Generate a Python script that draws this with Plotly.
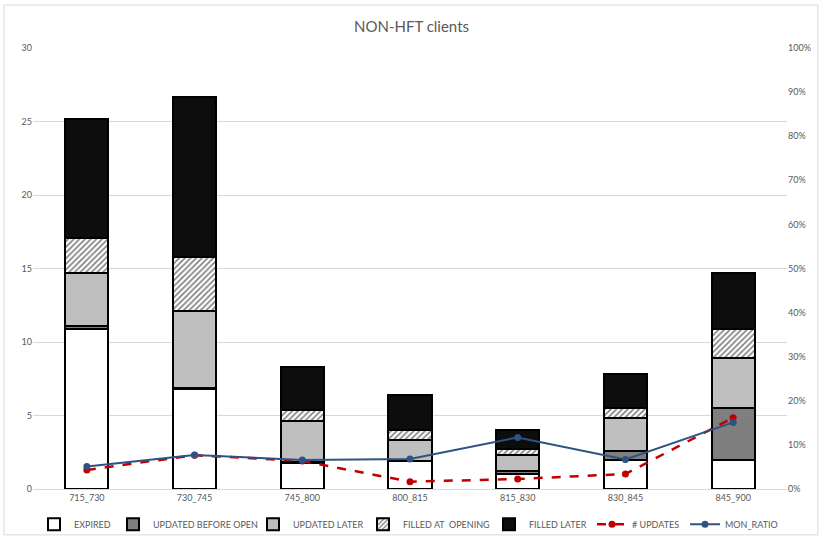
import plotly.graph_objects as go

# Time buckets on the x axis
categories = ["715_730", "730_745", "745_800", "800_815", "815_830", "830_845", "845_900"]

# Stacked order segments (counts)
expired = [10.9, 6.8, 1.8, 1.9, 1.0, 1.95, 2.0]
updated_before_open = [0.2, 0.1, 0.05, 0.0, 0.25, 0.65, 3.5]
updated_later = [3.6, 5.2, 2.8, 1.4, 1.05, 2.2, 3.4]
filled_at_opening = [2.4, 3.7, 0.75, 0.7, 0.45, 0.7, 2.0]
filled_later = [8.1, 10.9, 2.9, 2.4, 1.25, 2.3, 3.8]

# Line series
n_updates = [1.3, 2.3, 1.9, 0.5, 0.68, 1.02, 4.85]
mon_ratio = [0.051, 0.077, 0.066, 0.068, 0.117, 0.067, 0.151]

left_ticks = [0, 5, 10, 15, 20, 25, 30]

GREY_TXT = "#595959"
FONT = "Lato, 'Open Sans', sans-serif"

fig = go.Figure()

bar_line = dict(color="#000000", width=2)

fig.add_trace(go.Bar(name="EXPIRED", x=categories, y=expired, legendwidth=34,
                     marker=dict(color="#ffffff", line=bar_line)))
fig.add_trace(go.Bar(name="UPDATED BEFORE OPEN", x=categories, y=updated_before_open,
                     legendwidth=95,
                     marker=dict(color="#7f7f7f", line=bar_line)))
fig.add_trace(go.Bar(name="UPDATED LATER", x=categories, y=updated_later, legendwidth=65,
                     marker=dict(color="#bfbfbf", line=bar_line)))
fig.add_trace(go.Bar(name="FILLED AT  OPENING", x=categories, y=filled_at_opening,
                     legendwidth=81,
                     marker=dict(color="#ffffff", line=bar_line,
                                 pattern=dict(shape="/", fgcolor="#000000", bgcolor="#ffffff",
                                              size=4, solidity=0.4))))
fig.add_trace(go.Bar(name="FILLED LATER", x=categories, y=filled_later, legendwidth=58,
                     marker=dict(color="#0d0d0d", line=bar_line)))

fig.add_trace(go.Scatter(name="# UPDATES", x=categories, y=n_updates, mode="lines+markers",
                         legendwidth=48,
                         line=dict(color="#c00000", width=2.5, dash="dash"),
                         marker=dict(color="#c00000", size=7)))
fig.add_trace(go.Scatter(name="MON_RATIO", x=categories, y=mon_ratio, mode="lines+markers",
                         yaxis="y2", legendwidth=56,
                         line=dict(color="#2f5283", width=2),
                         marker=dict(color="#2f5283", size=7)))

fig.update_layout(
    width=823, height=540,
    margin=dict(l=33, r=36, t=48, b=51, autoexpand=False),
    paper_bgcolor="#ffffff", plot_bgcolor="#ffffff",
    barmode="stack", bargap=0.6,
    font=dict(family=FONT, color=GREY_TXT, size=10),
    title=dict(text="NON-HFT clients", x=0.5, xanchor="center", y=0.95, yanchor="middle",
               yref="container", font=dict(size=15, color=GREY_TXT, family=FONT)),
    xaxis=dict(showgrid=False, showline=True, linecolor="#d9d9d9", ticks="",
               tickfont=dict(size=9, color=GREY_TXT)),
    yaxis=dict(range=[0, 30], tickvals=left_ticks, showgrid=True, gridcolor="#d9d9d9",
               gridwidth=1, zeroline=False, showline=False, ticks="",
               tickfont=dict(size=9, color=GREY_TXT)),
    yaxis2=dict(range=[0, 1], overlaying="y", side="right", tickformat=".0%", dtick=0.1,
                showgrid=False, zeroline=False, showline=False, ticks="",
                tickfont=dict(size=9, color=GREY_TXT)),
    legend=dict(orientation="h", x=0.5, xanchor="center", y=-0.08, yanchor="middle",
                font=dict(size=9, color=GREY_TXT), itemwidth=30, traceorder="normal",
                bgcolor="rgba(0,0,0,0)"),
    shapes=[dict(type="rect", xref="paper", yref="paper",
                 x0=-0.0385, x1=1.041, y0=-0.104, y1=1.0975,
                 line=dict(color="#d9d9d9", width=1), fillcolor="rgba(0,0,0,0)", layer="below")],
)

fig.write_html("out.html")
